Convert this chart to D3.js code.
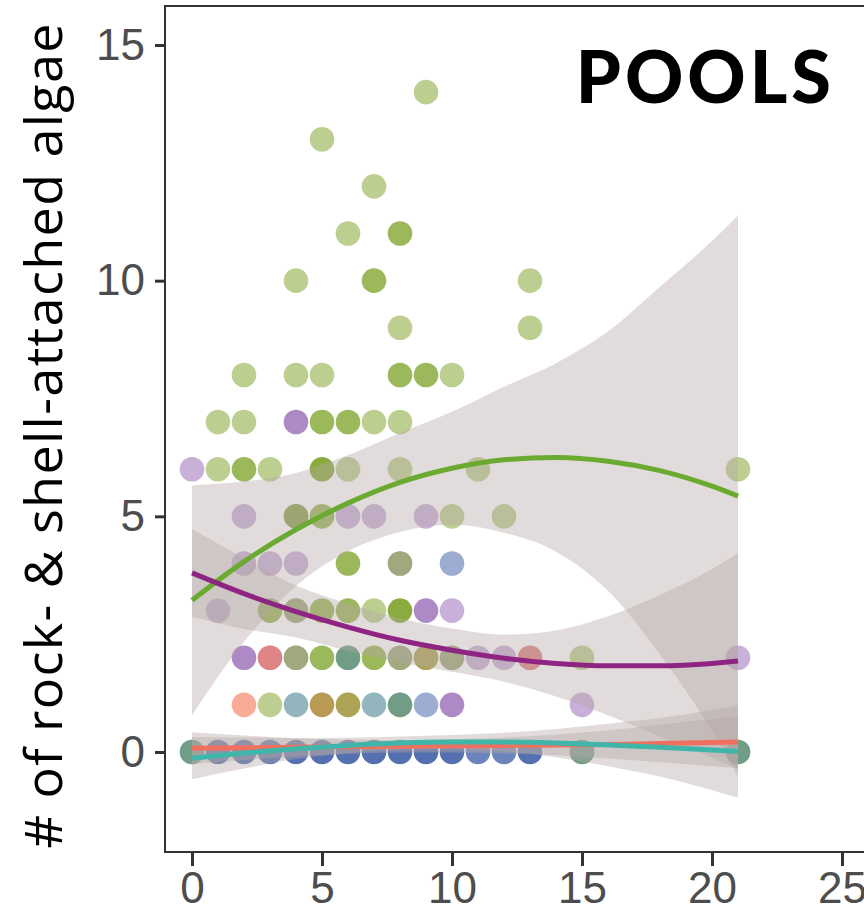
<!DOCTYPE html>
<html>
<head>
<meta charset="utf-8">
<script src="https://cdn.jsdelivr.net/npm/d3@7"></script>
<style>
  body { margin: 0; background: #fff; }
  svg { display: block; }
</style>
</head>
<body>
<div id="container"></div>
<script>
// axis ticks
var xTicks = [0, 5, 10, 15, 20, 25];
var yTicks = [0, 5, 10, 15];

// observations per colour group: [x, y, number of stacked points]
var greenPts = [
  [9,14,1],[5,13,1],[7,12,1],[6,11,1],[8,11,2],[4,10,1],[7,10,2],[13,10,1],
  [8,9,1],[13,9,1],[2,8,1],[4,8,1],[5,8,1],[8,8,2],[9,8,2],[10,8,1],
  [1,7,1],[2,7,1],[5,7,2],[6,7,2],[7,7,1],[8,7,1],
  [1,6,1],[2,6,2],[3,6,1],[5,6,3],[6,6,1],[8,6,1],[11,6,1],[21,6,1],
  [4,5,2],[5,5,2],[10,5,1],[12,5,1],[6,4,2],[8,4,1],
  [3,3,2],[4,3,1],[5,3,2],[6,3,2],[7,3,1],[8,3,3],
  [4,2,1],[5,2,2],[6,2,1],[7,2,2],[8,2,1],[9,2,1],[10,2,1],[15,2,1],
  [3,1,1],[6,1,1],[8,1,1],[0,0,1],[15,0,1],[21,0,1]
];
var purplePts = [
  [4,7,2],[0,6,1],[2,5,1],[4,5,1],[6,5,1],[7,5,1],[9,5,1],
  [2,4,1],[3,4,1],[4,4,1],[8,4,1],[1,3,1],[4,3,1],[9,3,2],[10,3,1],
  [2,2,2],[3,2,1],[4,2,1],[8,2,1],[10,2,1],[11,2,1],[12,2,1],[13,2,1],[21,2,1],
  [10,1,2],[15,1,1]
];
var bluePts = [
  [10,4,1],[9,1,1],
  [1,0,3],[2,0,3],[3,0,3],[4,0,3],[5,0,3],[6,0,3],[7,0,3],[8,0,3],[9,0,3],[10,0,3],
  [11,0,2],[12,0,2],[13,0,3]
];
var salmonPts = [[3,2,1],[13,2,1],[2,1,1]];
var tealPts = [[6,2,1],[4,1,1],[7,1,1],[8,1,1],[0,0,1],[15,0,1],[21,0,1]];
var mustardPts = [[9,2,1],[5,1,2],[6,1,1]];

// fitted curves with confidence bands
var fitX = [0, 2, 4, 6, 8, 10, 12, 14, 16, 18, 20, 21];
var greenFit = [3.22, 4.04, 4.72, 5.28, 5.72, 6.02, 6.20, 6.25, 6.17, 5.97, 5.64, 5.43];
var greenHi  = [5.66, 5.74, 5.92, 6.30, 6.77, 7.22, 7.75, 8.25, 8.92, 9.87, 10.84, 11.38];
var greenLo  = [0.78, 2.34, 3.52, 4.26, 4.67, 4.82, 4.65, 4.25, 3.42, 2.07, 0.44, -0.52];
var purpleFit = [3.80, 3.36, 2.98, 2.65, 2.37, 2.16, 1.99, 1.88, 1.83, 1.83, 1.88, 1.93];
var purpleHi  = [4.73, 4.11, 3.53, 3.15, 2.84, 2.62, 2.49, 2.58, 2.88, 3.33, 3.88, 4.22];
var purpleLo  = [2.87, 2.61, 2.43, 2.15, 1.90, 1.70, 1.49, 1.18, 0.78, 0.33, -0.12, -0.36];
var salmonFit = [0.08, 0.09, 0.10, 0.11, 0.12, 0.13, 0.14, 0.15, 0.16, 0.18, 0.20, 0.21];
var salmonHi  = [0.42, 0.35, 0.29, 0.26, 0.25, 0.27, 0.31, 0.37, 0.46, 0.58, 0.70, 0.76];
var salmonLo  = [-0.26, -0.17, -0.09, -0.04, -0.01, -0.01, -0.03, -0.07, -0.14, -0.22, -0.30, -0.34];
var tealFit = [-0.13, -0.02, 0.07, 0.14, 0.19, 0.21, 0.21, 0.19, 0.15, 0.10, 0.04, 0.01];
var tealHi  = [0.32, 0.31, 0.29, 0.30, 0.33, 0.36, 0.41, 0.49, 0.60, 0.72, 0.89, 0.99];
var tealLo  = [-0.58, -0.35, -0.15, -0.02, 0.05, 0.06, 0.01, -0.11, -0.30, -0.52, -0.81, -0.97];

var W = 864, H = 915;
var panel = { left: 165, top: 6, right: 900, bottom: 852 };

var svg = d3.select('#container').append('svg')
  .attr('width', W).attr('height', H);

var x = d3.scaleLinear().domain([0, 25]).range([192, 842]);
var y = d3.scaleLinear().domain([0, 15]).range([752, 45]);

svg.append('clipPath').attr('id', 'clip')
  .append('rect')
  .attr('x', panel.left).attr('y', panel.top)
  .attr('width', panel.right - panel.left).attr('height', panel.bottom - panel.top);

var plot = svg.append('g').attr('clip-path', 'url(#clip)');

// points, alpha 0.5 each, stacked ones get darker
var groups = [
  { pts: purplePts,  col: '#9161b1' },
  { pts: greenPts,   col: '#79a023' },
  { pts: tealPts,    col: '#256b7d' },
  { pts: bluePts,    col: '#3b5ba5' },
  { pts: mustardPts, col: '#a07818' },
  { pts: salmonPts,  col: '#f35731' }
];
groups.forEach(function(g) {
  plot.selectAll(null)
    .data(g.pts)
    .enter().append('circle')
    .attr('cx', function(d) { return x(d[0]); })
    .attr('cy', function(d) { return y(d[1]); })
    .attr('r', 12.3)
    .attr('fill', g.col)
    .attr('fill-opacity', function(d) { return 1 - Math.pow(0.5, d[2]); });
});

var fits = [
  { fit: greenFit,  hi: greenHi,  lo: greenLo,  col: '#6aaa30' },
  { fit: purpleFit, hi: purpleHi, lo: purpleLo, col: '#8e2582' },
  { fit: salmonFit, hi: salmonHi, lo: salmonLo, col: '#f07060' },
  { fit: tealFit,   hi: tealHi,   lo: tealLo,   col: '#40b5aa' }
];

var area = d3.area()
  .x(function(d) { return x(d.x); })
  .y0(function(d) { return y(d.lo); })
  .y1(function(d) { return y(d.hi); })
  .curve(d3.curveMonotoneX);
var line = d3.line()
  .x(function(d) { return x(d.x); })
  .y(function(d) { return y(d.v); })
  .curve(d3.curveMonotoneX);

fits.forEach(function(f) {
  var rows = fitX.map(function(v, i) { return { x: v, v: f.fit[i], hi: f.hi[i], lo: f.lo[i] }; });
  plot.append('path').datum(rows)
    .attr('d', area)
    .attr('fill', '#b5a8a6')
    .attr('fill-opacity', 0.4);
});
fits.forEach(function(f) {
  var rows = fitX.map(function(v, i) { return { x: v, v: f.fit[i] }; });
  plot.append('path').datum(rows)
    .attr('d', line)
    .attr('fill', 'none')
    .attr('stroke', f.col)
    .attr('stroke-width', 5);
});

// panel border
svg.append('rect')
  .attr('x', panel.left).attr('y', panel.top)
  .attr('width', panel.right - panel.left).attr('height', panel.bottom - panel.top)
  .attr('fill', 'none').attr('stroke', '#333').attr('stroke-width', 2);

// axes
var xAxis = d3.axisBottom(x).tickValues(xTicks).tickSize(14).tickPadding(6);
var yAxis = d3.axisLeft(y).tickValues(yTicks).tickSize(10).tickPadding(10);

var gx = svg.append('g').attr('transform', 'translate(0,' + panel.bottom + ')').call(xAxis);
var gy = svg.append('g').attr('transform', 'translate(' + panel.left + ',0)').call(yAxis);
[gx, gy].forEach(function(g) {
  g.select('.domain').remove();
  g.selectAll('.tick line').attr('stroke', '#333').attr('stroke-width', 3);
  g.selectAll('.tick text')
    .attr('fill', '#4d4d4d')
    .style('font-family', '"Liberation Sans Narrow", "Liberation Sans", Arial, sans-serif')
    .style('font-size', '44px');
});

// y title
svg.append('text')
  .attr('transform', 'translate(62,436) rotate(-90)')
  .attr('text-anchor', 'middle')
  .attr('textLength', 825)
  .attr('lengthAdjust', 'spacing')
  .style('font-family', '"Open Sans", sans-serif')
  .style('font-size', '52px')
  .attr('fill', '#000')
  .text('# of rock- & shell-attached algae');

// panel label
svg.append('text')
  .attr('x', 835).attr('y', 103)
  .attr('text-anchor', 'end')
  .style('font-family', 'Lato, sans-serif')
  .style('font-weight', 900)
  .style('font-size', '72px')
  .style('letter-spacing', '4px')
  .attr('fill', '#000')
  .text('POOLS');
</script>
</body>
</html>
